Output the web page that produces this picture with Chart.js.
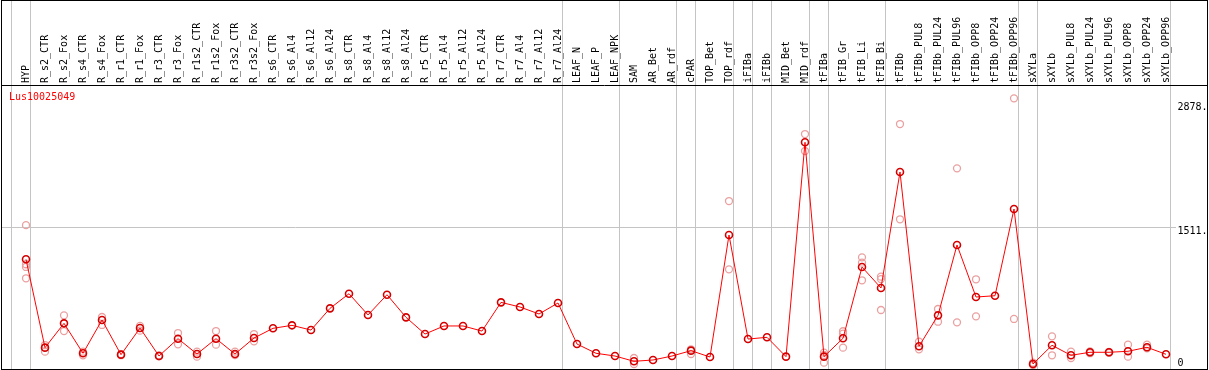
<!DOCTYPE html>
<html><head><meta charset="utf-8">
<script src="https://cdn.jsdelivr.net/npm/chart.js@4.4.1/dist/chart.umd.min.js"></script>
<style>html,body{margin:0;padding:0;background:#fff;overflow:hidden}canvas{display:block}</style>
</head><body>
<canvas id="c" width="1209" height="370"></canvas>
<script>
const geneId = 'Lus10025049';

const categories = [
  'HYP','R_s2_CTR','R_s2_Fox','R_s4_CTR','R_s4_Fox','R_r1_CTR','R_r1_Fox','R_r3_CTR','R_r3_Fox','R_r1s2_CTR',
  'R_r1s2_Fox','R_r3s2_CTR','R_r3s2_Fox','R_s6_CTR','R_s6_Al4','R_s6_Al12','R_s6_Al24','R_s8_CTR','R_s8_Al4','R_s8_Al12',
  'R_s8_Al24','R_r5_CTR','R_r5_Al4','R_r5_Al12','R_r5_Al24','R_r7_CTR','R_r7_Al4','R_r7_Al12','R_r7_Al24','LEAF_N',
  'LEAF_P','LEAF_NPK','SAM','AR_Bet','AR_rdf','cPAR','TOP_Bet','TOP_rdf','iFIBa','iFIBb',
  'MID_Bet','MID_rdf','tFIBa','tFIB_Gr','tFIB_Li','tFIB_Bi','tFIBb','tFIBb_PUL8','tFIBb_PUL24','tFIBb_PUL96',
  'tFIBb_OPP8','tFIBb_OPP24','tFIBb_OPP96','sXYLa','sXYLb','sXYLb_PUL8','sXYLb_PUL24','sXYLb_PUL96','sXYLb_OPP8','sXYLb_OPP24',
  'sXYLb_OPP96'
];

const meanValues = [
  1164, 191, 459, 129, 496, 114, 407, 99, 290, 121,
  290, 121, 297, 404, 437, 385, 624, 785, 551, 774,
  525, 341, 430, 430, 374, 690, 639, 562, 683, 231,
  129, 99, 41, 55, 99, 158, 88, 1432, 286, 305,
  92, 2453, 92, 294, 1079, 848, 2126, 206, 547, 1322,
  749, 763, 1718, 11, 217, 107, 140, 140, 151, 195,
  118
];

const rep1 = [
  1540, 220, 547, 147, 529, 120, 430, 105, 352, 147,
  374, 147, 341, null, null, null, null, null, null, null,
  null, null, null, null, null, null, null, null, null, null,
  null, null, 77, null, null, 173, null, 1806, null, null,
  null, 2544, 136, 372, 1186, 973, 2654, 257, 617, 2166,
  944, null, 2937, 25, 316, 147, 150, 145, 224, 224,
  null
];
const rep2 = [
  1110, 147, 374, 107, 441, 108, 378, 95, 228, 92,
  224, 110, 261, null, null, null, null, null, null, null,
  null, null, null, null, null, null, null, null, null, null,
  null, null, 11, null, null, 121, null, 1054, null, null,
  null, 2357, 110, 345, 1127, 946, 1605, 173, 477, 470,
  536, null, 507, 0, 107, 77, 130, 135, 92, 184,
  null
];
const rep3 = [
  1080, null, null, null, null, null, null, null, null, null,
  null, null, null, null, null, null, null, null, null, null,
  null, null, null, null, null, null, null, null, null, null,
  null, null, null, null, null, null, null, null, null, null,
  null, null, 26, 191, 933, 606, null, null, null, null,
  null, null, null, null, null, null, null, null, null, null,
  null
];
const rep4 = [
  955, null, null, null, null, null, null, null, null, null,
  null, null, null, null, null, null, null, null, null, null,
  null, null, null, null, null, null, null, null, null, null,
  null, null, null, null, null, null, null, null, null, null,
  null, null, null, null, null, null, null, null, null, null,
  null, null, null, null, null, null, null, null, null, null,
  null
];

const yTickValues = [0, 1511, 2878];
const yTickLabels = ['0', '1511.', '2878.'];
// indices of categories after which a group separator line is drawn
const groupBreaks = [-1, 0, 28, 31, 34, 35, 37, 38, 39, 41, 42, 45, 52, 53, 60];

const meanData = meanValues.map((v, i) => ({x: i, y: v}));
const repData = [];
[rep1, rep2, rep3, rep4].forEach(arr => arr.forEach((v, i) => { if (v !== null) repData.push({x: i, y: v}); }));

const FONT = {family: '"DejaVu Sans Mono", monospace', size: 10};
const zeroPad = () => ({left: 0, top: 0, right: 0, bottom: 0});

const framePlugin = {
  id: 'frame',
  beforeDatasetsDraw(chart) {
    const ctx = chart.ctx, xs = chart.scales.x;
    ctx.save();
    ctx.strokeStyle = '#c4c4c4';
    ctx.lineWidth = 1;
    groupBreaks.forEach(b => {
      const px = Math.floor(xs.getPixelForValue(b) + 4) + 0.5;
      ctx.beginPath();
      ctx.moveTo(px, 0);
      ctx.lineTo(px, chart.chartArea.bottom);
      ctx.stroke();
    });
    ctx.restore();
  },
  afterDraw(chart) {
    const ctx = chart.ctx, a = chart.chartArea;
    ctx.save();
    ctx.strokeStyle = '#000';
    ctx.lineWidth = 1;
    ctx.strokeRect(1.5, 0.5, chart.width - 3, a.bottom);
    ctx.beginPath();
    ctx.moveTo(1, a.top - 0.5);
    ctx.lineTo(chart.width - 1, a.top - 0.5);
    ctx.stroke();
    ctx.fillStyle = '#ff0000';
    ctx.font = '10px "DejaVu Sans Mono", monospace';
    ctx.textBaseline = 'middle';
    ctx.textAlign = 'left';
    ctx.fillText(geneId, a.left + 7, a.top + 11.5);
    ctx.restore();
  }
};

new Chart(document.getElementById('c'), {
  type: 'line',
  data: {
    datasets: [
      {
        label: 'mean',
        data: meanData,
        borderColor: '#ff0000',
        borderWidth: 1,
        pointRadius: 3.5,
        pointBorderWidth: 1.6,
        pointBorderColor: '#d40000',
        pointBackgroundColor: 'rgba(0,0,0,0)',
        tension: 0,
        order: 1
      },
      {
        label: 'replicates',
        data: repData,
        showLine: false,
        borderColor: '#e89c9c',
        pointRadius: 3.5,
        pointBorderWidth: 1.3,
        pointBorderColor: '#eaa0a0',
        pointBackgroundColor: 'rgba(0,0,0,0)',
        order: 2
      }
    ]
  },
  options: {
    responsive: false,
    animation: false,
    devicePixelRatio: 1,
    layout: {autoPadding: false, padding: {left: 2, right: 0, top: 0, bottom: 1}},
    plugins: {legend: {display: false}, tooltip: {enabled: false}},
    scales: {
      x: {
        type: 'linear',
        position: 'top',
        min: -1.2632,
        max: 60.5,
        grid: {display: false, drawTicks: false},
        border: {display: false},
        afterBuildTicks: (s) => { s.ticks = categories.map((_, i) => ({value: i})); },
        afterFit: (s) => { s.height = 86; s.paddingLeft = 0; s.paddingRight = 0; s.getPadding = zeroPad; },
        ticks: {
          autoSkip: false,
          minRotation: 90,
          maxRotation: 90,
          padding: 3,
          labelOffset: 12,
          color: '#000',
          font: FONT,
          callback: (v) => categories[v]
        }
      },
      y: {
        type: 'linear',
        position: 'right',
        min: -44,
        max: 3073,
        border: {display: false},
        grid: {
          drawTicks: false,
          color: (c) => (c.tick && c.tick.value === 1511) ? '#c4c4c4' : 'rgba(0,0,0,0)'
        },
        afterBuildTicks: (s) => { s.ticks = yTickValues.map(v => ({value: v})); },
        afterFit: (s) => { s.width = 33.5; s.paddingTop = 0; s.paddingBottom = 0; s.getPadding = zeroPad; },
        ticks: {
          padding: 2,
          labelOffset: 4,
          color: '#000',
          font: FONT,
          callback: (v) => {
            const i = yTickValues.indexOf(v);
            return v === 0 ? [yTickLabels[i], ''] : yTickLabels[i];
          }
        }
      }
    }
  },
  plugins: [framePlugin]
});
</script>
</body></html>
